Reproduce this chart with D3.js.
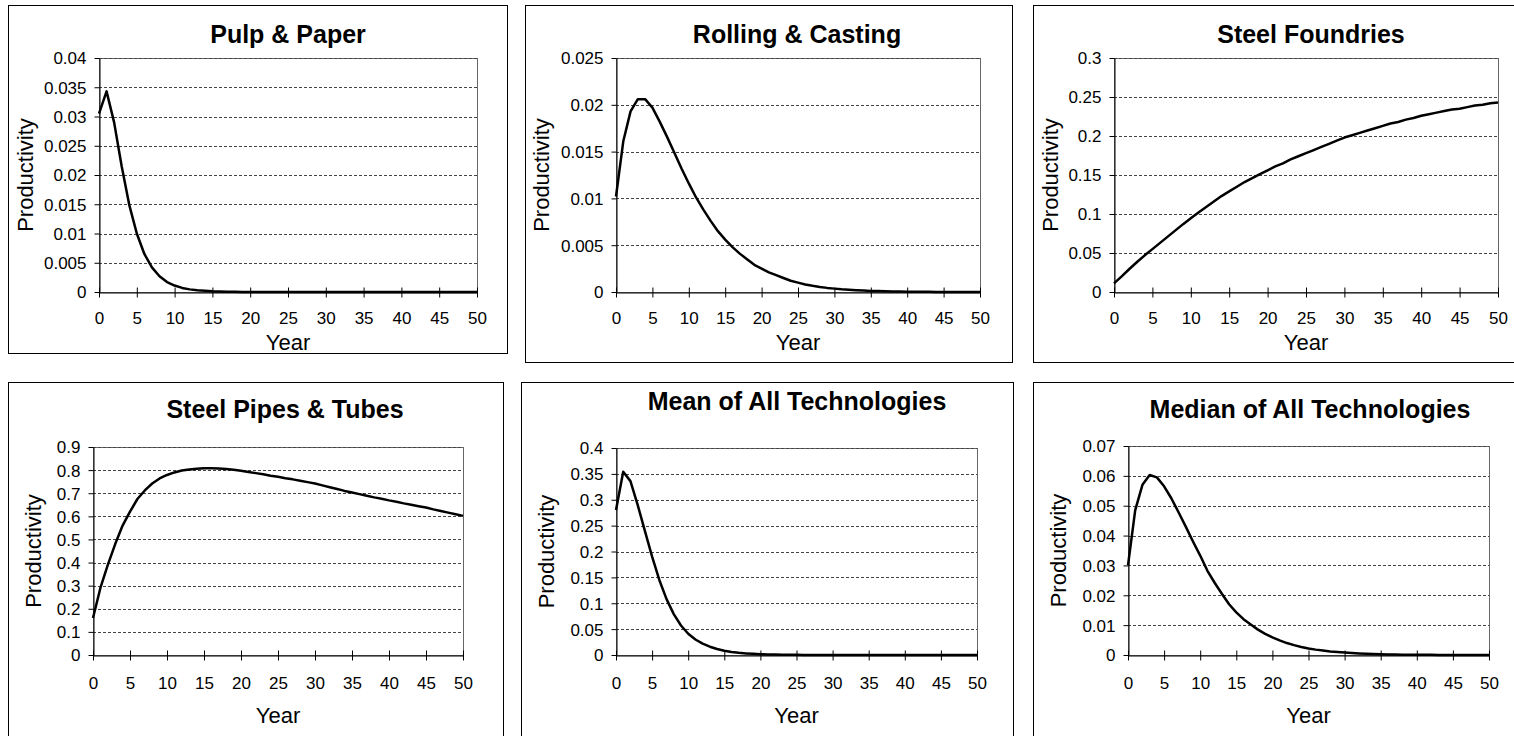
<!DOCTYPE html>
<html>
<head>
<meta charset="utf-8">
<script src="https://cdnjs.cloudflare.com/ajax/libs/d3/7.8.5/d3.min.js"></script>
<style>
  body { margin: 0; background: #fff; }
  text { font-family: Arial, "Liberation Sans", sans-serif; }
</style>
</head>
<body>
<div id="chart"></div>
<script>
// ---- data ----
var titles = ["Pulp & Paper", "Rolling & Casting", "Steel Foundries",
              "Steel Pipes & Tubes", "Mean of All Technologies", "Median of All Technologies"];

var years = d3.range(0, 51);
var xTicks = [0, 5, 10, 15, 20, 25, 30, 35, 40, 45, 50];

var pulpPaper = [0.0305, 0.0343, 0.0290, 0.0215, 0.0149, 0.0100, 0.0065, 0.0042, 0.0027, 0.0017,
  0.0011, 0.0007, 0.00045, 0.0003, 0.0002, 0.00012, 0.00008, 0.00005, 0.00003, 0.00002,
  0.00001, 0, 0, 0, 0, 0, 0, 0, 0, 0,
  0, 0, 0, 0, 0, 0, 0, 0, 0, 0,
  0, 0, 0, 0, 0, 0, 0, 0, 0, 0, 0];

var rollingCasting = [0.0102, 0.0161, 0.0193, 0.0206, 0.0206, 0.0197, 0.0182, 0.0166, 0.0149, 0.0132,
  0.0116, 0.0101, 0.0088, 0.0076, 0.0065, 0.0056, 0.0048, 0.0041, 0.0035, 0.0029,
  0.0025, 0.0021, 0.0018, 0.0015, 0.0012, 0.0010, 0.0008, 0.00066, 0.00054, 0.00044,
  0.00036, 0.00029, 0.00024, 0.00019, 0.00015, 0.00012, 0.0001, 0.00008, 0.00006, 0.00005,
  0.00004, 0.00003, 0.00002, 0.00002, 0.00001, 0.00001, 0.00001, 0.00001, 0, 0, 0];

var steelFoundries = [0.011, 0.020, 0.0295, 0.0385, 0.047, 0.055, 0.063, 0.071, 0.079, 0.087,
  0.0945, 0.102, 0.109, 0.116, 0.123, 0.129, 0.135, 0.141, 0.146, 0.151,
  0.156, 0.161, 0.165, 0.170, 0.174, 0.178, 0.182, 0.186, 0.190, 0.194,
  0.198, 0.201, 0.204, 0.207, 0.210, 0.213, 0.216, 0.218, 0.221, 0.223,
  0.226, 0.228, 0.230, 0.232, 0.234, 0.235, 0.237, 0.239, 0.240, 0.242, 0.243];

var steelPipes = [0.16, 0.29, 0.39, 0.48, 0.56, 0.62, 0.675, 0.712, 0.742, 0.764,
  0.779, 0.79, 0.798, 0.803, 0.806, 0.808, 0.808, 0.807, 0.805, 0.802,
  0.797, 0.792, 0.787, 0.782, 0.776, 0.771, 0.765, 0.76, 0.754, 0.748,
  0.742, 0.734, 0.726, 0.718, 0.71, 0.703, 0.696, 0.689, 0.682, 0.676,
  0.669, 0.663, 0.656, 0.65, 0.644, 0.638, 0.63, 0.623, 0.616, 0.609, 0.602];

var meanAll = [0.28, 0.354, 0.336, 0.29, 0.24, 0.19, 0.145, 0.108, 0.079, 0.057,
  0.041, 0.030, 0.022, 0.016, 0.0115, 0.0083, 0.006, 0.0043, 0.0031, 0.0022,
  0.0016, 0.0011, 0.0008, 0.0006, 0.0004, 0.0003, 0.0002, 0.00015, 0.0001, 0.00007,
  0.00005, 0.00003, 0.00002, 0.00001, 0, 0, 0, 0, 0, 0,
  0, 0, 0, 0, 0, 0, 0, 0, 0, 0, 0];

var medianAll = [0.030, 0.0485, 0.057, 0.0603, 0.0595, 0.0565, 0.0525, 0.0478, 0.0430, 0.0380,
  0.0333, 0.0282, 0.0242, 0.0205, 0.0170, 0.0143, 0.0120, 0.0102, 0.0085, 0.0071,
  0.0059, 0.0049, 0.0040, 0.0033, 0.0027, 0.0022, 0.0018, 0.0015, 0.0012, 0.0010,
  0.0008, 0.00065, 0.0005, 0.0004, 0.0003, 0.00025, 0.0002, 0.00015, 0.00012, 0.0001,
  0.00008, 0.00006, 0.00005, 0.00004, 0.00003, 0.00002, 0.00002, 0.00001, 0.00001, 0.00001, 0.00001];

var ticksPulp = [0, 0.005, 0.01, 0.015, 0.02, 0.025, 0.03, 0.035, 0.04];
var ticksRolling = [0, 0.005, 0.01, 0.015, 0.02, 0.025];
var ticksFoundries = [0, 0.05, 0.1, 0.15, 0.2, 0.25, 0.3];
var ticksPipes = [0, 0.1, 0.2, 0.3, 0.4, 0.5, 0.6, 0.7, 0.8, 0.9];
var ticksMean = [0, 0.05, 0.1, 0.15, 0.2, 0.25, 0.3, 0.35, 0.4];
var ticksMedian = [0, 0.01, 0.02, 0.03, 0.04, 0.05, 0.06, 0.07];

var seriesList = [pulpPaper, rollingCasting, steelFoundries, steelPipes, meanAll, medianAll];
var tickList = [ticksPulp, ticksRolling, ticksFoundries, ticksPipes, ticksMean, ticksMedian];

// ---- layout (frame x0,y0,x1,y1 / plot l,r,t,b) ----
var layout = [
  {frame: [8, 5, 507, 353],     plot: [99, 477, 58, 292],    titleX: 288,  titleY: 43,  ylabX: 33,   xlabY: 350, tickDy: 31},
  {frame: [525, 5, 1012, 362],  plot: [616, 980, 58, 292],   titleX: 797,  titleY: 43,  ylabX: 549,  xlabY: 350, tickDy: 31},
  {frame: [1033, 5, 1520, 362], plot: [1114, 1498, 58, 292], titleX: 1311, titleY: 43,  ylabX: 1058, xlabY: 350, tickDy: 31},
  {frame: [8, 382, 503, 745],   plot: [93, 463, 447, 655],   titleX: 285,  titleY: 418, ylabX: 41,   xlabY: 723, tickDy: 33},
  {frame: [521, 382, 1013, 745], plot: [616, 977, 448, 655], titleX: 797,  titleY: 410, ylabX: 554,  xlabY: 723, tickDy: 33},
  {frame: [1033, 382, 1520, 745], plot: [1128, 1489, 446, 655], titleX: 1310, titleY: 418, ylabX: 1066, xlabY: 723, tickDy: 33}
];

var fmt = function(d){ return String(+d.toFixed(4)); };

var svg = d3.select("#chart")
            .append("svg")
            .attr("width", 1514)
            .attr("height", 736);

layout.forEach(function(L, k){
    var values = seriesList[k], yTicks = tickList[k];
    var l = L.plot[0], r = L.plot[1], t = L.plot[2], b = L.plot[3];

    var x = d3.scaleLinear().domain([0, 50]).range([l, r]);
    var y = d3.scaleLinear().domain([0, yTicks[yTicks.length - 1]]).range([b, t]);

    var g = svg.append("g");

    // outer frame
    g.append("rect")
      .attr("x", L.frame[0] + 0.5).attr("y", L.frame[1] + 0.5)
      .attr("width", L.frame[2] - L.frame[0]).attr("height", L.frame[3] - L.frame[1])
      .attr("fill", "#fff").attr("stroke", "#000").attr("stroke-width", 1);

    // plot area border
    g.append("rect")
      .attr("x", l + 0.5).attr("y", t + 0.5)
      .attr("width", r - l).attr("height", b - t)
      .attr("fill", "none").attr("stroke", "#666").attr("stroke-width", 1);

    // gridlines
    g.selectAll(".grid").data(yTicks.filter(function(v){ return v > 0; }))
      .enter().append("line")
      .attr("x1", l).attr("x2", r)
      .attr("y1", function(v){ return Math.round(y(v)) + 0.5; })
      .attr("y2", function(v){ return Math.round(y(v)) + 0.5; })
      .attr("stroke", "#444").attr("stroke-width", 1)
      .attr("stroke-dasharray", "3,2");

    // y axis
    var yAxis = d3.axisLeft(y).tickValues(yTicks).tickFormat(fmt).tickSize(5).tickSizeOuter(0);
    var gy = g.append("g").attr("transform", "translate(" + (l + 0.5) + ",0)").call(yAxis);
    gy.attr("font-size", 17).attr("font-family", "Arial, 'Liberation Sans', sans-serif");
    gy.selectAll("text").attr("x", -13).attr("dy", "0.35em").attr("fill", "#000");
    gy.selectAll("line, path").attr("stroke", "#000");

    // x axis, ticks crossing the axis line
    var xAxis = d3.axisBottom(x).tickValues(xTicks).tickSize(5).tickSizeOuter(0);
    var gx = g.append("g").attr("transform", "translate(0," + (b + 0.5) + ")").call(xAxis);
    gx.attr("font-size", 17).attr("font-family", "Arial, 'Liberation Sans', sans-serif");
    gx.selectAll(".tick line").attr("y1", -5).attr("y2", 5);
    gx.selectAll("text").attr("y", L.tickDy).attr("dy", null).attr("fill", "#000");
    gx.selectAll("line, path").attr("stroke", "#000");

    // the curve
    var line = d3.line()
        .x(function(d, i){ return x(years[i]); })
        .y(function(d){ return y(d); });
    g.append("path")
      .datum(values)
      .attr("d", line)
      .attr("fill", "none")
      .attr("stroke", "#000")
      .attr("stroke-width", 2.5)
      .attr("stroke-linejoin", "round");

    // titles
    g.append("text")
      .attr("x", L.titleX).attr("y", L.titleY)
      .attr("text-anchor", "middle")
      .attr("font-size", 25).attr("font-weight", "bold")
      .text(titles[k]);

    g.append("text")
      .attr("x", (l + r) / 2).attr("y", L.xlabY)
      .attr("text-anchor", "middle")
      .attr("font-size", 22)
      .text("Year");

    g.append("text")
      .attr("transform", "translate(" + L.ylabX + "," + ((t + b) / 2) + ") rotate(-90)")
      .attr("text-anchor", "middle")
      .attr("font-size", 22)
      .text("Productivity");
});
</script>
</body>
</html>
